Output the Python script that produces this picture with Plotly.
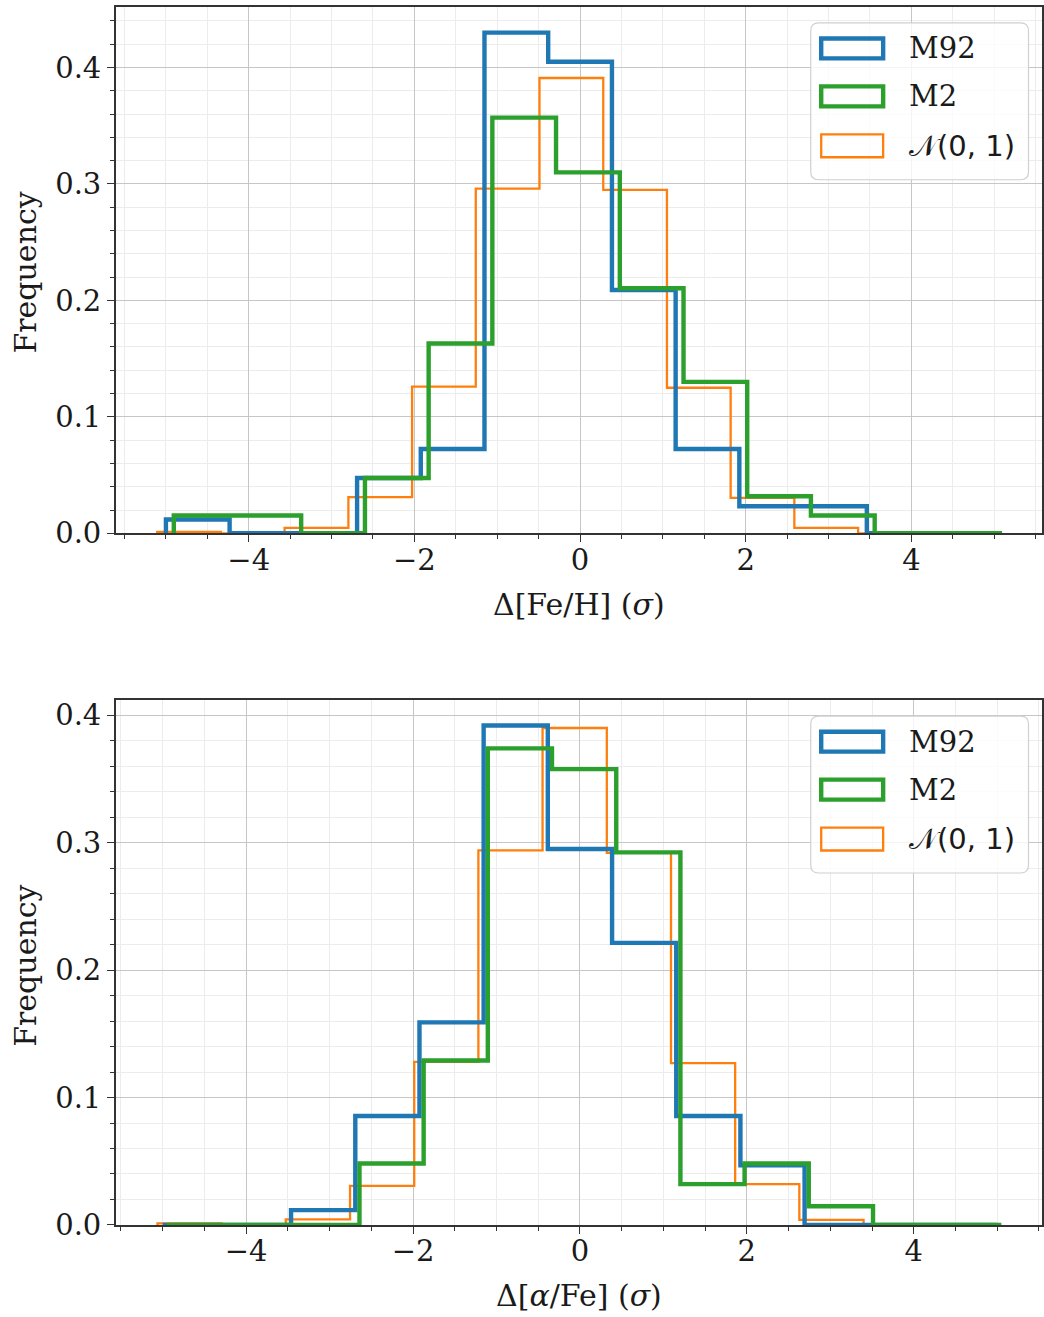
import numpy as np
import plotly.graph_objects as go

# ---- histogram data (density, step outlines) ----
series_names = ["M92", "M2", "𝒩(0, 1)"]

# Δ[Fe/H] panel
feh_m92_edges = [-5.0, -4.231, -3.462, -2.692, -1.923, -1.154, -0.385, 0.385, 1.154, 1.923, 2.692, 3.462, 4.231, 5.0]
feh_m92_heights = [0.0118, 0.0, 0.0, 0.0475, 0.0724, 0.430, 0.405, 0.209, 0.0724, 0.0232, 0.0232, 0.0, 0.0]
feh_m2_edges = [-4.905, -4.136, -3.367, -2.597, -1.828, -1.059, -0.29, 0.48, 1.249, 2.018, 2.787, 3.557, 4.326, 5.095]
feh_m2_heights = [0.0153, 0.0153, 0.0, 0.0475, 0.163, 0.357, 0.310, 0.2105, 0.130, 0.0318, 0.0153, 0.0, 0.0]
feh_norm_edges = [-5.105, -4.336, -3.567, -2.797, -2.028, -1.259, -0.49, 0.28, 1.049, 1.818, 2.587, 3.357, 4.126, 4.895]
feh_norm_heights = [0.0013, 0.0, 0.0046, 0.031, 0.126, 0.296, 0.391, 0.295, 0.125, 0.0304, 0.0046, 0.0, 0.0]

# Δ[α/Fe] panel
afe_m92_edges = [-5.0, -4.231, -3.462, -2.692, -1.923, -1.154, -0.385, 0.385, 1.154, 1.923, 2.692, 3.462, 4.231, 5.0]
afe_m92_heights = [0.0, 0.0, 0.0116, 0.0855, 0.159, 0.392, 0.295, 0.2214, 0.0855, 0.0469, 0.0, 0.0, 0.0]
afe_m2_edges = [-4.95, -4.181, -3.412, -2.642, -1.873, -1.104, -0.335, 0.435, 1.204, 1.973, 2.742, 3.512, 4.281, 5.05]
afe_m2_heights = [0.0, 0.0, 0.0, 0.0482, 0.129, 0.374, 0.3577, 0.2924, 0.032, 0.0482, 0.0147, 0.0, 0.0]
afe_norm_edges = [-5.063, -4.294, -3.525, -2.755, -1.986, -1.217, -0.448, 0.322, 1.091, 1.86, 2.629, 3.399, 4.168, 4.937]
afe_norm_heights = [0.0013, 0.0, 0.0043, 0.0306, 0.128, 0.294, 0.390, 0.292, 0.127, 0.032, 0.0039, 0.0, 0.0]

x_tick_vals = [-4, -2, 0, 2, 4]
x_tick_text = ["−4", "−2", "0", "2", "4"]
y_tick_vals = [0.0, 0.1, 0.2, 0.3, 0.4]
y_tick_text = ["0.0", "0.1", "0.2", "0.3", "0.4"]

x_labels = ["Δ[Fe/H] (<i>σ</i>)", "Δ[<i>α</i>/Fe] (<i>σ</i>)"]
y_label = "Frequency"

# ---- styling ----
W = 1044
H_FIG = 1334      # figure height
H_REF = 1317      # height of the layout frame used for positions
BLUE, GREEN, ORANGE = "#1f77b4", "#2ca02c", "#ff7f0e"
SERIF = "DejaVu Serif"
FS_TICK = 29
FS_LABEL = 30
FS_LEG = 29
TXT = "#1a1a1a"
SPINE = "#333333"


def step_outline(edges, heights):
    """Open step polygon, as drawn by a 'step' histogram."""
    e = np.asarray(edges, float)
    h = np.asarray(heights, float)
    xs = np.repeat(e, 2)
    ys = np.concatenate([[0.0], np.repeat(h, 2), [0.0]])
    return xs, ys


def px(x):
    return x / W


def py(y):
    return 1 - y / H_REF


fig = go.Figure()

panels = [
    dict(
        xaxis="x", yaxis="y",
        data=[(feh_norm_edges, feh_norm_heights, ORANGE, 2.3, series_names[2]),
              (feh_m92_edges, feh_m92_heights, BLUE, 4.4, series_names[0]),
              (feh_m2_edges, feh_m2_heights, GREEN, 4.4, series_names[1])],
    ),
    dict(
        xaxis="x2", yaxis="y2",
        data=[(afe_norm_edges, afe_norm_heights, ORANGE, 2.3, series_names[2]),
              (afe_m92_edges, afe_m92_heights, BLUE, 4.4, series_names[0]),
              (afe_m2_edges, afe_m2_heights, GREEN, 4.4, series_names[1])],
    ),
]

for p in panels:
    for edges, heights, color, lw, name in p["data"]:
        xs, ys = step_outline(edges, heights)
        fig.add_trace(go.Scatter(
            x=xs, y=ys, mode="lines", name=name, showlegend=False,
            line=dict(color=color, width=lw, shape="linear"),
            xaxis=p["xaxis"], yaxis=p["yaxis"], hoverinfo="skip",
        ))

# axes geometry (pixels)
AX_L, AX_R = 116, 1043
panel_px = [dict(top=5.0, bottom=532.1, xr=[-5.604, 5.577], yr=[0, 0.452]),
            dict(top=699.3, bottom=1224.8, xr=[-5.561, 5.537], yr=[0, 0.4118])]


def x_axis(rng, dom_anchor):
    return dict(
        domain=[px(AX_L), px(AX_R)], range=rng, anchor=dom_anchor,
        tickmode="array", tickvals=x_tick_vals, ticktext=x_tick_text,
        ticks="outside", ticklen=7, tickwidth=1.4, tickcolor=SPINE,
        ticklabelstandoff=-7,
        showline=True, linecolor=SPINE, linewidth=1.5, mirror=True,
        showgrid=True, gridcolor="#c6c6c6", gridwidth=1, zeroline=False,
        tickfont=dict(family=SERIF, size=FS_TICK, color=TXT),
        minor=dict(tickmode="linear", tick0=0, dtick=0.5, ticks="outside", ticklen=4,
                   tickwidth=1, tickcolor=SPINE, showgrid=True, gridcolor="#ececec", gridwidth=1),
    )


def y_axis(rng, top, bottom, dom_anchor):
    return dict(
        domain=[py(bottom), py(top)], range=rng, anchor=dom_anchor,
        tickmode="array", tickvals=y_tick_vals, ticktext=y_tick_text,
        ticks="outside", ticklen=7, tickwidth=1.4, tickcolor=SPINE,
        showline=True, linecolor=SPINE, linewidth=1.5, mirror=True,
        showgrid=True, gridcolor="#c6c6c6", gridwidth=1, zeroline=False,
        tickfont=dict(family=SERIF, size=FS_TICK, color=TXT),
        minor=dict(tickmode="linear", tick0=0, dtick=0.02, ticks="outside", ticklen=4,
                   tickwidth=1, tickcolor=SPINE, showgrid=True, gridcolor="#ececec", gridwidth=1),
    )


p0, p1 = panel_px
fig.update_layout(
    xaxis=x_axis(p0["xr"], "y"),
    yaxis=y_axis(p0["yr"], p0["top"], p0["bottom"], "x"),
    xaxis2=x_axis(p1["xr"], "y2"),
    yaxis2=y_axis(p1["yr"], p1["top"], p1["bottom"], "x2"),
)


def rounded_rect(x0, y0, x1, y1, r):
    """Rounded rectangle path in paper coordinates from pixel corners."""
    rx, ry = r / W, r / H_REF
    X0, X1 = px(x0), px(x1)
    Y0, Y1 = py(y0), py(y1)  # Y0 is the upper edge
    return (f"M {X0 + rx},{Y0} L {X1 - rx},{Y0} Q {X1},{Y0} {X1},{Y0 - ry} "
            f"L {X1},{Y1 + ry} Q {X1},{Y1} {X1 - rx},{Y1} "
            f"L {X0 + rx},{Y1} Q {X0},{Y1} {X0},{Y1 + ry} "
            f"L {X0},{Y0 - ry} Q {X0},{Y0} {X0 + rx},{Y0} Z")


shapes = []
annotations = []
legend_rows = [(BLUE, 4.4, 46.5, 10.0, series_names[0], SERIF),
               (GREEN, 4.4, 94.5, 10.0, series_names[1], SERIF),
               (ORANGE, 2.3, 144.0, 11.5, series_names[2], "DejaVu Sans")]

for i, p in enumerate(panel_px):
    off = p["top"] - panel_px[0]["top"]
    # legend frame
    shapes.append(dict(type="path", xref="paper", yref="paper", layer="above",
                       path=rounded_rect(811.5, 21.0 + off, 1029.5, 178.0 + off, 8),
                       fillcolor="rgba(255,255,255,0.8)", line=dict(color="#d0d0d0", width=1.2)))
    for color, lw, cy, hh, name, fam in legend_rows:
        shapes.append(dict(type="rect", xref="paper", yref="paper", layer="above",
                           x0=px(822), x1=px(884), y0=py(cy + off + hh), y1=py(cy + off - hh),
                           line=dict(color=color, width=lw), fillcolor="rgba(0,0,0,0)"))
        annotations.append(dict(xref="paper", yref="paper", x=px(908), y=py(cy + off),
                                xanchor="left", yanchor="middle", showarrow=False, text=name,
                                font=dict(family=fam, size=FS_LEG, color=TXT)))
    # axis labels
    annotations.append(dict(xref="paper", yref="paper", x=px(579.5), y=py(p["bottom"] + 71),
                            xanchor="center", yanchor="middle", showarrow=False, text=x_labels[i],
                            font=dict(family=SERIF, size=FS_LABEL, color=TXT)))
    annotations.append(dict(xref="paper", yref="paper", x=px(26), y=py(p["top"] + 266),
                            xanchor="center", yanchor="middle", showarrow=False, text=y_label,
                            textangle=-90, font=dict(family=SERIF, size=FS_LABEL, color=TXT)))

fig.update_layout(
    width=W, height=H_FIG,
    margin=dict(l=0, r=0, t=0, b=0),
    paper_bgcolor="white", plot_bgcolor="white",
    shapes=shapes, annotations=annotations, showlegend=False,
)

fig.write_html("out.html")
